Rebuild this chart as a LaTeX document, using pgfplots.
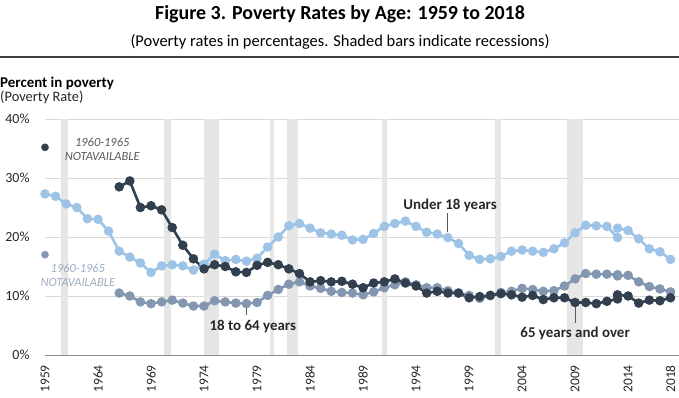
\documentclass[border=0pt]{standalone}
\usepackage{pgfplots}
\pgfplotsset{compat=1.18}
\usepackage{fontspec}
\setmainfont{Carlito}
\definecolor{kid}{HTML}{9DC3E6}
\definecolor{adult}{HTML}{8497B0}
\definecolor{old}{HTML}{323F4F}
\definecolor{rec}{HTML}{E6E6E6}
\definecolor{gridc}{HTML}{D9D9D9}
\definecolor{txt}{HTML}{262626}
\begin{document}
\begin{tikzpicture}[x=1bp,y=1bp]
\path[use as bounding box] (0,0) rectangle (679,397);
\node[font=\fontsize{20}{23}\selectfont\bfseries, text=black] at (340,383) {Figure 3. Poverty Rates by Age: 1959 to 2018};
\node[font=\fontsize{16.5}{19}\selectfont, text=black] at (340,355) {(Poverty rates in percentages. Shaded bars indicate recessions)};
\draw[line width=1.5bp, color=black!75] (0,340) -- (679,340);
\node[anchor=base west, inner sep=0, font=\fontsize{15}{17}\selectfont\bfseries, text=black] at (0,310) {Percent in poverty};
\node[anchor=base west, inner sep=0, font=\fontsize{14.5}{17}\selectfont, text=txt] at (0,296) {(Poverty Rate)};
\begin{axis}[
  at={(45bp,42bp)}, anchor=south west,
  scale only axis, width=634bp, height=236bp,
  xmin=1959, xmax=2018.8, ymin=0, ymax=40,
  clip=false,
  axis x line*=bottom, axis y line*=left,
  y axis line style={draw=none},
  x axis line style={draw=black!45, line width=1bp},
  major tick length=0,
  ymajorgrids, grid style={gridc, line width=0.9bp},
  ytick={0,10,20,30,40},
  yticklabels={0\%,10\%,20\%,30\%,40\%},
  yticklabel style={font=\fontsize{14}{16}\selectfont, text=txt, xshift=-12bp},
  xtick={1959,1964,1969,1974,1979,1984,1989,1994,1999,2004,2009,2014,2018},
  xticklabels={1959,1964,1969,1974,1979,1984,1989,1994,1999,2004,2009,2014,2018},
  xticklabel style={font=\fontsize{13.5}{16}\selectfont, text=txt, rotate=90, anchor=east, inner sep=0pt, xshift=-10bp},
]
% recession bars
\addplot[fill=rec, draw=none] coordinates {(1960.5,0) (1961.2,0) (1961.2,40) (1960.5,40)} -- cycle;
\addplot[fill=rec, draw=none] coordinates {(1970.2,0) (1970.9,0) (1970.9,40) (1970.2,40)} -- cycle;
\addplot[fill=rec, draw=none] coordinates {(1974.0,0) (1975.4,0) (1975.4,40) (1974.0,40)} -- cycle;
\addplot[fill=rec, draw=none] coordinates {(1980.2,0) (1980.6,0) (1980.6,40) (1980.2,40)} -- cycle;
\addplot[fill=rec, draw=none] coordinates {(1981.8,0) (1982.9,0) (1982.9,40) (1981.8,40)} -- cycle;
\addplot[fill=rec, draw=none] coordinates {(1990.8,0) (1991.3,0) (1991.3,40) (1990.8,40)} -- cycle;
\addplot[fill=rec, draw=none] coordinates {(2001.4,0) (2002.0,0) (2002.0,40) (2001.4,40)} -- cycle;
\addplot[fill=rec, draw=none] coordinates {(2008.2,0) (2009.7,0) (2009.7,40) (2008.2,40)} -- cycle;
% 18 to 64
\addplot[only marks, mark=*, mark size=3.6pt, color=adult] coordinates {(1959,17.0)};
\addplot[color=adult, line width=2.6bp, mark=*, mark size=3.4pt] coordinates {
(1966,10.5)(1967,10.0)(1968,9.0)(1969,8.7)(1970,9.0)(1971,9.3)(1972,8.8)(1973,8.3)(1974,8.3)(1975,9.2)
(1976,9.0)(1977,8.8)(1978,8.7)(1979,8.9)(1980,10.1)(1981,11.1)(1982,12.0)(1983,12.4)(1984,11.7)(1985,11.3)
(1986,10.8)(1987,10.6)(1988,10.5)(1989,10.2)(1990,10.7)(1991,11.4)(1992,11.9)(1993,12.4)(1994,11.9)(1995,11.4)
(1996,11.4)(1997,10.9)(1998,10.5)(1999,10.1)(2000,9.6)(2001,10.1)(2002,10.6)(2003,10.8)(2004,11.3)(2005,11.1)
(2006,10.8)(2007,10.9)(2008,11.7)(2009,12.9)(2010,13.8)(2011,13.7)(2012,13.7)(2013,13.6)};
\addplot[color=adult, line width=2.6bp, mark=*, mark size=3.4pt] coordinates {
(2013,13.4)(2014,13.5)(2015,12.4)(2016,11.6)(2017,11.2)(2018,10.7)};
% under 18
\addplot[color=kid, line width=2.6bp, mark=*, mark size=3.4pt] coordinates {
(1959,27.3)(1960,26.9)(1961,25.6)(1962,25.0)(1963,23.1)(1964,23.0)(1965,21.0)(1966,17.6)(1967,16.6)(1968,15.6)
(1969,14.0)(1970,15.1)(1971,15.3)(1972,15.1)(1973,14.4)(1974,15.4)(1975,17.1)(1976,16.0)(1977,16.2)(1978,15.9)
(1979,16.4)(1980,18.3)(1981,20.0)(1982,21.9)(1983,22.3)(1984,21.5)(1985,20.7)(1986,20.5)(1987,20.3)(1988,19.5)
(1989,19.6)(1990,20.6)(1991,21.8)(1992,22.3)(1993,22.7)(1994,21.8)(1995,20.8)(1996,20.5)(1997,19.9)(1998,18.9)
(1999,16.9)(2000,16.2)(2001,16.3)(2002,16.7)(2003,17.6)(2004,17.8)(2005,17.6)(2006,17.4)(2007,18.0)(2008,19.0)
(2009,20.7)(2010,22.0)(2011,21.9)(2012,21.8)(2013,19.9)};
\addplot[color=kid, line width=2.6bp, mark=*, mark size=3.4pt] coordinates {
(2013,21.5)(2014,21.1)(2015,19.7)(2016,18.0)(2017,17.5)(2018,16.2)};
% 65 and over
\addplot[only marks, mark=*, mark size=3.6pt, color=old] coordinates {(1959,35.2)};
\addplot[color=old, line width=2.6bp, mark=*, mark size=3.4pt] coordinates {
(1966,28.5)(1967,29.5)(1968,25.0)(1969,25.3)(1970,24.6)(1971,21.6)(1972,18.6)(1973,16.3)(1974,14.6)(1975,15.3)
(1976,15.0)(1977,14.1)(1978,14.0)(1979,15.2)(1980,15.7)(1981,15.3)(1982,14.6)(1983,13.8)(1984,12.4)(1985,12.6)
(1986,12.4)(1987,12.5)(1988,12.0)(1989,11.4)(1990,12.2)(1991,12.4)(1992,12.9)(1993,12.2)(1994,11.7)(1995,10.5)
(1996,10.8)(1997,10.5)(1998,10.5)(1999,9.7)(2000,9.9)(2001,10.1)(2002,10.4)(2003,10.2)(2004,9.8)(2005,10.1)
(2006,9.4)(2007,9.7)(2008,9.7)(2009,8.9)(2010,8.9)(2011,8.7)(2012,9.1)(2013,9.5)};
\addplot[color=old, line width=2.6bp, mark=*, mark size=3.4pt] coordinates {
(2013,10.2)(2014,10.0)(2015,8.8)(2016,9.3)(2017,9.2)(2018,9.7)};
% annotations
\draw[color=black!65, line width=0.9bp] (axis cs:1997,24.0) -- (axis cs:1997,20.9);
\draw[color=black!65, line width=0.9bp] (axis cs:1978,8.0) -- (axis cs:1978,6.7);
\draw[color=black!65, line width=0.9bp] (axis cs:2009,8.2) -- (axis cs:2009,5.4);
\node[font=\fontsize{15}{18}\selectfont\bfseries, text=txt] at (axis cs:1997.2,25.3) {Under 18 years};
\node[font=\fontsize{15}{18}\selectfont\bfseries, text=txt] at (axis cs:1978.6,4.9) {18 to 64 years};
\node[font=\fontsize{15}{18}\selectfont\bfseries, text=txt] at (axis cs:2009.0,3.7) {65 years and over};
\node[font=\fontsize{12.5}{14}\selectfont\itshape, text=black!65, align=center] at (axis cs:1964.4,34.8) {1960-1965\\NOTAVAILABLE};
\node[font=\fontsize{12.5}{14}\selectfont\itshape, text=adult!80, align=center] at (axis cs:1962.1,13.55) {1960-1965\\NOTAVAILABLE};
\end{axis}
\end{tikzpicture}
\end{document}
